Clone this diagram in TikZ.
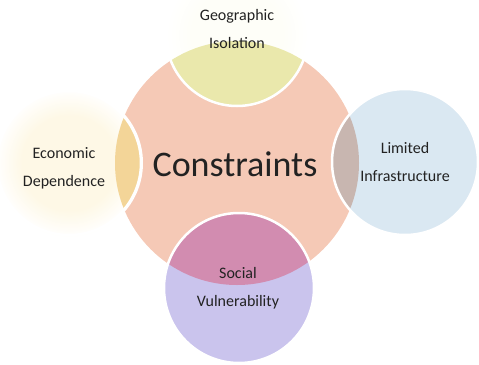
\documentclass[tikz,border=0pt]{standalone}
\usepackage{fontspec}
\setmainfont{Carlito}
\definecolor{cSalmon}{RGB}{245,201,182}
\definecolor{topOut}{RGB}{254,254,248}
\definecolor{topLens}{RGB}{234,232,172}
\definecolor{leftOut}{RGB}{254,248,230}
\definecolor{leftLens}{RGB}{243,213,152}
\definecolor{rightOut}{RGB}{218,232,242}
\definecolor{rightLens}{RGB}{200,182,176}
\definecolor{botOut}{RGB}{202,196,237}
\definecolor{botLens}{RGB}{210,140,176}
\definecolor{txt}{RGB}{34,34,34}
\pgfdeclareradialshading{softleft}{\pgfpointorigin}{color(0bp)=(leftOut); color(16bp)=(leftOut); color(25bp)=(white); color(50bp)=(white)}
\pgfdeclareradialshading{softtop}{\pgfpointorigin}{color(0bp)=(topOut); color(16bp)=(topOut); color(25bp)=(white); color(50bp)=(white)}
\tikzset{
  sep/.style={white, line width=2.5pt},
  lbl/.style={text=txt, align=center, font=\fontsize{16}{28}\selectfont, inner sep=0pt},
}
\begin{document}
\begin{tikzpicture}[x=1pt,y=-1pt]
\useasboundingbox (0,0) rectangle (479,364);
% central circle
\fill[cSalmon] (237,163) circle[radius=122pt];
% top circle
\shade[shading=softtop] (237,35) circle[radius=71pt];
\begin{scope}
  \clip (237,163) circle[radius=122pt];
  \fill[topLens] (237,35) circle[radius=71pt];
\end{scope}
\draw[sep] (237,35) circle[radius=71pt];
% left circle
\shade[shading=softleft] (69,163) circle[radius=74pt];
\begin{scope}
  \clip (237,163) circle[radius=122pt];
  \fill[leftLens] (69,163) circle[radius=72pt];
\end{scope}
\draw[sep] (69,163) circle[radius=72pt];
% right circle
\fill[rightOut] (405,162) circle[radius=73pt];
\begin{scope}
  \clip (237,163) circle[radius=122pt];
  \fill[rightLens] (405,162) circle[radius=73pt];
\end{scope}
\draw[sep] (405,162) circle[radius=73pt];
% bottom circle
\fill[botOut] (239,288) circle[radius=75pt];
\begin{scope}
  \clip (237,163) circle[radius=122pt];
  \fill[botLens] (239,288) circle[radius=75pt];
\end{scope}
\draw[sep] (239,288) circle[radius=75pt];
% labels
\node[lbl, font=\fontsize{36}{40}\selectfont] (con) at (235,164) {Constraints};
\node[lbl] (geo) at (237,29) {Geographic\\Isolation};
\node[lbl] (eco) at (64,168) {Economic\\Dependence};
\node[lbl] (inf) at (405,162) {Limited\\Infrastructure};
\node[lbl] (soc) at (238,288) {Social\\Vulnerability};
\end{tikzpicture}
\end{document}
